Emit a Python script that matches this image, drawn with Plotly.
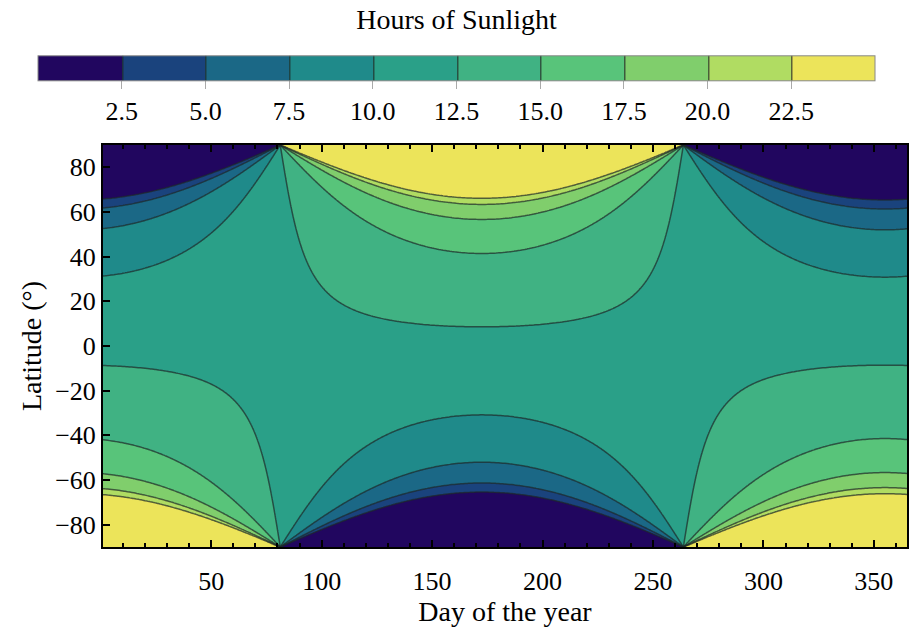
import numpy as np
import plotly.graph_objects as go

# Axis samples
days = np.arange(1, 366)                # day of the year
latitudes = np.linspace(-90, 90, 721)   # degrees

axial_tilt_deg = 23.44
equinox_offset_days = 10

# Contour levels and band colours
levels_start, levels_end, levels_step = 2.5, 22.5, 2.5
band_colors = ["#21065f", "#1a437d", "#1b6886", "#1f8a8a", "#2aa088",
               "#40b283", "#58c47a", "#80ce6c", "#b0dc62", "#ece45a"]
cbar_ticks = [2.5, 5.0, 7.5, 10.0, 12.5, 15.0, 17.5, 20.0, 22.5]

decl = -np.radians(axial_tilt_deg) * np.cos(2 * np.pi / 365 * (days + equinox_offset_days))
phi = np.radians(np.clip(latitudes, -89.999, 89.999))
cosw = -np.tan(phi)[:, None] * np.tan(decl)[None, :]
hours = 24 / np.pi * np.arccos(np.clip(cosw, -1, 1))

n = len(band_colors)
cs = []
for i, c in enumerate(band_colors):
    cs.append([i / n, c])
    cs.append([(i + 1) / n, c])

font = "Liberation Serif"
FT = 26   # tick labels
FL = 28   # titles
fig = go.Figure(go.Contour(
    x=days, y=latitudes, z=hours,
    zmin=0, zmax=25, zauto=False,
    colorscale=cs,
    autocontour=False,
    contours=dict(start=levels_start, end=levels_end, size=levels_step, coloring="fill"),
    line=dict(color="rgba(30,40,40,0.7)", width=1.5, smoothing=0),
    colorbar=dict(
        orientation="h", lenmode="pixels", len=837, thickness=25,
        x=(456.5 - 103) / 804, xanchor="center",
        y=1.045, yanchor="bottom", ypad=0, xpad=0,
        outlinecolor="#888888", outlinewidth=1,
        tickvals=cbar_ticks, ticktext=[f"{t:.1f}" for t in cbar_ticks],
        ticks="outside", ticklen=8, tickcolor="#aaaaaa",
        tickfont=dict(family=font, size=FT, color="black"),
        title=dict(text="Hours of Sunlight", side="top", font=dict(family=font, size=FL, color="black")),
    ),
))

fig.update_layout(
    width=918, height=630,
    margin=dict(l=103, r=11, t=145, b=83, autoexpand=False),
    paper_bgcolor="white", plot_bgcolor="white",
    font=dict(family=font, size=FT, color="black"),
    annotations=[dict(
        text="Latitude (°)", textangle=-90, showarrow=False,
        xref="paper", yref="paper", x=(31 - 103) / 804, y=0.5,
        xanchor="center", yanchor="middle",
        font=dict(family=font, size=FL, color="black"),
    )],
)
fig.update_xaxes(
    range=[1, 365], tickvals=[50, 100, 150, 200, 250, 300, 350],
    ticks="inside", ticklen=7, tickwidth=1.5, tickcolor="black",
    minor=dict(dtick=10, tick0=0, ticks="inside", ticklen=4, tickcolor="black"),
    showline=True, linecolor="black", linewidth=2, mirror="ticks",
    showgrid=False, zeroline=False, ticklabelstandoff=10,
    title=dict(text="Day of the year", font=dict(family=font, size=FL), standoff=6),
    tickfont=dict(family=font, size=FT),
)
fig.update_yaxes(
    range=[-90, 90], tickvals=[-80, -60, -40, -20, 0, 20, 40, 60, 80],
    ticktext=["\u221280", "\u221260", "\u221240", "\u221220", "0", "20", "40", "60", "80"],
    ticks="inside", ticklen=7, tickwidth=1.5, tickcolor="black",
    showline=True, linecolor="black", linewidth=2, mirror=True,
    showgrid=False, zeroline=False,
    tickfont=dict(family=font, size=FT),
)

fig.write_html("out.html", config={"displayModeBar": False},
               post_script="document.body.style.margin='0';")
